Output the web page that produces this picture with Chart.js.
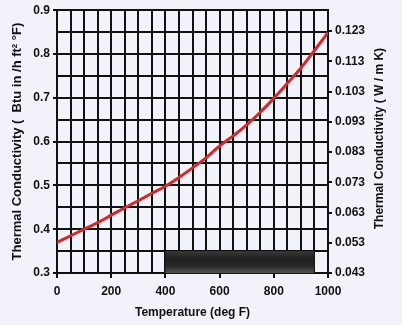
<!DOCTYPE html>
<html><head><meta charset="utf-8">
<script src="https://cdn.jsdelivr.net/npm/chart.js@4/dist/chart.umd.min.js"></script>
<style>
html,body{margin:0;padding:0;background:#f2f2fb;}
#wrap{width:402px;height:325px;position:relative;}
</style></head>
<body><div id="wrap"><canvas id="c"></canvas></div>
<script>
// Temperature (deg F)
const temperatures = [0,50,100,150,200,250,300,350,400,450,500,550,600,650,700,750,800,850,900,950,1000];
// Thermal conductivity (Btu in / h ft² °F)
const conductivity = [0.370,0.385,0.400,0.415,0.432,0.449,0.465,0.482,0.498,0.518,0.540,0.563,0.590,0.613,0.638,0.667,0.699,0.733,0.768,0.808,0.849];
// Right-axis tick labels (W / m K)
const siTicks = [0.043,0.053,0.063,0.073,0.083,0.093,0.103,0.113,0.123];
// Dark smudge region in the scan: [xStart, xEnd, yBottom, yTop]
const smudge = [400, 948, 0.30, 0.35];
const leftTitle = 'Thermal Conductivity (  Btu in /h ft² °F)';
const rightTitle = 'Thermal Conductivity ( W / m K)';

const fam = "'Liberation Sans', Arial, sans-serif";
const font = {family:fam, size:12, weight:'bold'};
const ink = '#111';

const smudgePlugin = {
  id:'smudge',
  beforeDatasetsDraw(chart){
    const {ctx, scales:{x,y}} = chart;
    const x0=x.getPixelForValue(smudge[0]), x1=x.getPixelForValue(smudge[1]);
    const y0=y.getPixelForValue(smudge[3]), y1=y.getPixelForValue(smudge[2]);
    ctx.save();
    const g = ctx.createLinearGradient(0,y0,0,y1);
    g.addColorStop(0,'#3a3a3a'); g.addColorStop(0.35,'#1e1e1e'); g.addColorStop(0.7,'#2a2a2a'); g.addColorStop(1,'#555');
    ctx.fillStyle=g;
    ctx.fillRect(x0,y0,x1-x0,y1-y0);
    ctx.restore();
  }
};

const rightTitlePlugin = {
  id:'rightTitle',
  afterDraw(chart){
    const {ctx, chartArea, scales:{y2}} = chart;
    ctx.save();
    ctx.translate(y2.right - 22, (chartArea.top + chartArea.bottom)/2 - 3);
    ctx.rotate(-Math.PI/2);
    ctx.font = 'bold 12px ' + fam;
    ctx.fillStyle = ink;
    ctx.textAlign = 'center';
    ctx.textBaseline = 'middle';
    ctx.fillText(rightTitle, 0, 0);
    ctx.restore();
  }
};

new Chart(document.getElementById('c'), {
  type:'line',
  data:{
    datasets:[{
      data: temperatures.map((t,i)=>({x:t,y:conductivity[i]})),
      borderColor:'#d8262b', borderWidth:3, pointRadius:0, tension:0.4, fill:false, yAxisID:'y'
    },{
      data: [], yAxisID:'y2'
    }]
  },
  options:{
    responsive:true, maintainAspectRatio:false, animation:false,
    layout:{padding:{top:10,left:0,right:0,bottom:0}},
    plugins:{legend:{display:false}, tooltip:{enabled:false}},
    scales:{
      x:{
        type:'linear', min:0, max:1000,
        ticks:{stepSize:50, color:ink, font, padding:6, maxRotation:0, autoSkip:false,
          callback:(v)=> (v%200===0 ? String(v) : '')},
        grid:{color:ink, lineWidth:2, tickLength:5, tickColor:(c)=> (c.tick && c.tick.value%200===0 ? ink : 'rgba(0,0,0,0)')},
        border:{color:ink, width:2},
        title:{display:true, text:'Temperature (deg F)', color:ink, font, padding:{top:0,bottom:5}},
        afterFit(s){ s.height = 52; }
      },
      y:{
        type:'linear', position:'left', min:0.3, max:0.9,
        ticks:{stepSize:0.05, color:ink, font, padding:3, autoSkip:false,
          callback:(v)=> { const r=Math.round(v*100); return r%10===0 ? (r/100).toFixed(1) : ''; }},
        grid:{color:ink, lineWidth:2, tickLength:4, tickColor:(c)=> (c.tick && Math.round(c.tick.value*100)%10===0 ? ink : 'rgba(0,0,0,0)')},
        border:{color:ink, width:2},
        title:{display:true, text:leftTitle, color:ink, font:{family:fam, size:13, weight:'bold'}, padding:{top:10,bottom:0}},
        afterFit(s){ s.width = 57; }
      },
      y2:{
        type:'linear', position:'right', min:0.043, max:0.12994,
        afterBuildTicks(s){ s.ticks = siTicks.map(v=>({value:v})); },
        ticks:{color:ink, font, padding:3, callback:(v)=> v.toFixed(3)},
        grid:{drawOnChartArea:false, color:ink, lineWidth:2, tickLength:4},
        border:{color:ink, width:2},
        afterFit(s){ s.width = 74; }
      }
    }
  },
  plugins:[smudgePlugin, rightTitlePlugin]
});
</script></body></html>
